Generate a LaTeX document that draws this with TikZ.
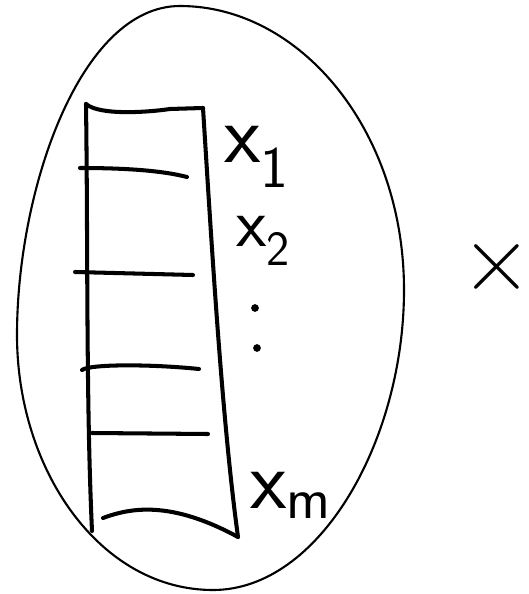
\documentclass[tikz,border=0pt]{standalone}
\usepackage{fontspec}
\usetikzlibrary{positioning}

\begin{document}
\begin{tikzpicture}[
  x=0.02cm,y=-0.02cm,
  pen/.style={line width=2.3pt,line cap=round,line join=round},
  egg/.style={line width=1.2pt},
  lbl/.style={inner sep=0pt,anchor=base west,font=\fontsize{48}{50}\selectfont\sffamily},
  ]
  \useasboundingbox (0,0) rectangle (528,594);

  % the set
  \draw[egg] (180,6) .. controls (300,6) and (404,130) .. (404,290)
    .. controls (404,440) and (320,590) .. (213,590)
    .. controls (100,590) and (17,470) .. (17,335)
    .. controls (17,190) and (80,6) .. (180,6) -- cycle;

  % the column
  \draw[pen] (86,104) .. controls (88,250) and (86,400) .. (92,531);
  \draw[pen] (86,104) .. controls (100,116) and (150,112) .. (170,109) -- (203,108);
  \draw[pen] (203,108) .. controls (212,250) and (222,420) .. (238,537);
  \draw[pen] (103,518) .. controls (130,508) and (170,500) .. (238,537);
  \draw[pen] (80,168) .. controls (120,168) and (160,170) .. (187,177);
  \draw[pen] (75,272) -- (193,275);
  \draw[pen] (82,370) .. controls (90,364) and (150,364) .. (199,369);
  \draw[pen] (92,433) -- (208,434);

  % entries
  \node[lbl] (x1) at (224,163) {x\textsubscript{1}};
  \node[lbl,font=\fontsize{40}{42}\selectfont\sffamily] (x2) at (236,247) {x\textsubscript{2}};
  \fill (255,308) circle[radius=2.2pt];
  \fill (257,348) circle[radius=2.2pt];
  \node[lbl] (xm) at (250,508) {x\textsubscript{m}};

  % product sign
  \node[inner sep=0pt] (times) at (497,268) {\fontsize{56}{56}\selectfont\makebox[26pt][c]{×}};
\end{tikzpicture}
\end{document}
